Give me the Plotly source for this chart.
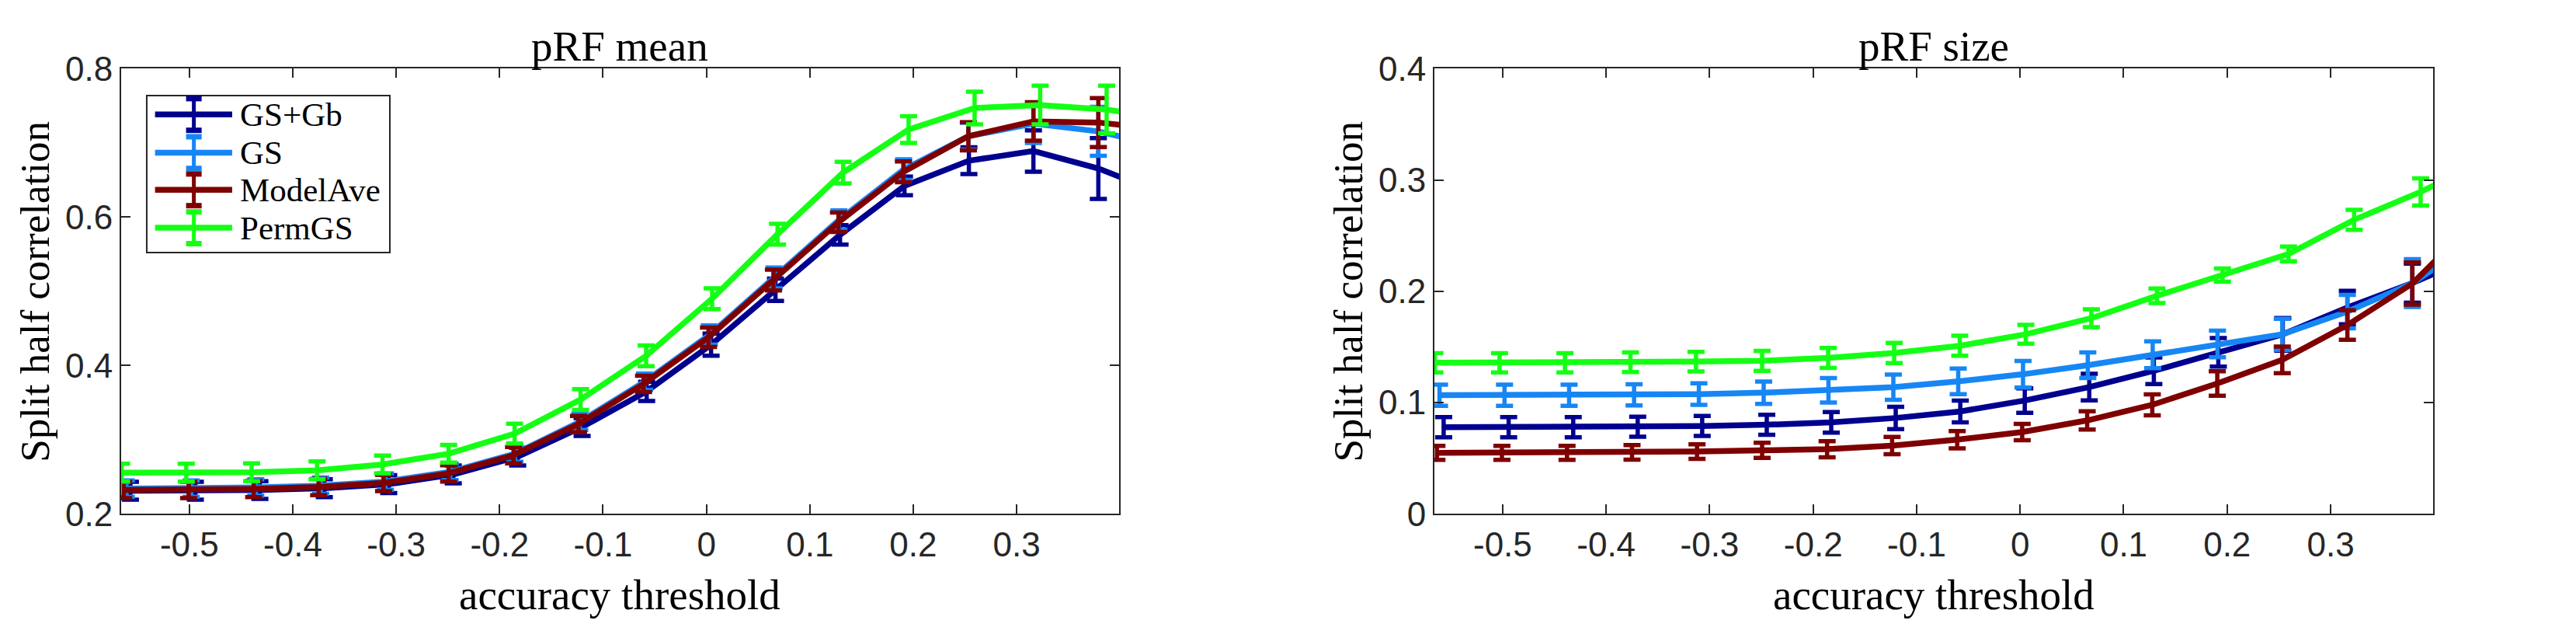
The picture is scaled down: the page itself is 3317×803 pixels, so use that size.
import plotly.graph_objects as go
from plotly.subplots import make_subplots

# accuracy threshold of each bin (small per-model offsets as in the figure)
x_gsgb = [-0.5570, -0.4942, -0.4318, -0.3695, -0.3072, -0.2448, -0.1825, -0.1202, -0.0578,
          0.0045, 0.0668, 0.1292, 0.1915, 0.2538, 0.3162, 0.3790, 0.4418]
x_gs = [-0.5610, -0.4982, -0.4358, -0.3730, -0.3104, -0.2478, -0.1852, -0.1225, -0.0598,
        0.0028, 0.0654, 0.1281, 0.1907, 0.2533, 0.3162, 0.3790, 0.4418]
x_modelave = [-0.5635, -0.5007, -0.4378, -0.3750, -0.3122, -0.2493, -0.1865, -0.1237, -0.0608,
              0.0020, 0.0648, 0.1277, 0.1905, 0.2533, 0.3162, 0.3790, 0.4418]
x_permgs = [-0.5655, -0.5030, -0.4398, -0.3765, -0.3132, -0.2493, -0.1855, -0.1217, -0.0583,
            0.0055, 0.0688, 0.1322, 0.1955, 0.2593, 0.3227, 0.3870, 0.4508]

# pRF mean: split half correlation and error
mean_gsgb = [0.231, 0.231, 0.232, 0.2345, 0.240, 0.253, 0.277, 0.317, 0.365,
             0.428, 0.502, 0.576, 0.642, 0.676, 0.689, 0.6655, 0.631]
mean_gsgb_err = [0.012, 0.012, 0.012, 0.012, 0.012, 0.012, 0.012, 0.012, 0.013,
                 0.015, 0.015, 0.013, 0.0125, 0.018, 0.028, 0.041, 0.045]
mean_gs = [0.234, 0.234, 0.2355, 0.238, 0.2435, 0.2565, 0.281, 0.324, 0.378,
           0.441, 0.518, 0.596, 0.664, 0.709, 0.726, 0.7155, 0.695]
mean_gs_err = [0.011, 0.011, 0.011, 0.011, 0.011, 0.011, 0.011, 0.011, 0.011,
               0.013, 0.014, 0.013, 0.014, 0.018, 0.026, 0.033, 0.036]
mean_modelave = [0.232, 0.232, 0.2335, 0.236, 0.2415, 0.2545, 0.279, 0.321, 0.375,
                 0.438, 0.515, 0.593, 0.661, 0.709, 0.729, 0.7275, 0.718]
mean_modelave_err = [0.011, 0.011, 0.011, 0.011, 0.011, 0.011, 0.011, 0.011, 0.011,
                     0.013, 0.014, 0.013, 0.014, 0.019, 0.026, 0.033, 0.036]
mean_permgs = [0.2555, 0.2555, 0.256, 0.2585, 0.2665, 0.281, 0.308, 0.354, 0.413,
               0.490, 0.577, 0.660, 0.718, 0.747, 0.751, 0.745, 0.731]
mean_permgs_err = [0.012, 0.012, 0.012, 0.012, 0.012, 0.012, 0.0133, 0.014, 0.014,
                   0.014, 0.014, 0.0145, 0.018, 0.022, 0.026, 0.032, 0.035]

# pRF size: split half correlation and error
size_gsgb = [0.0778, 0.0778, 0.0778, 0.0782, 0.0789, 0.080, 0.0822, 0.0861, 0.092,
             0.1018, 0.1139, 0.1285, 0.1451, 0.1613, 0.1854, 0.2073, 0.233]
size_gsgb_err = [0.009, 0.009, 0.009, 0.009, 0.009, 0.009, 0.0093, 0.010, 0.0098,
                 0.011, 0.012, 0.012, 0.0128, 0.0147, 0.015, 0.0175, 0.019]
size_gs = [0.1066, 0.1066, 0.1066, 0.1069, 0.1075, 0.1088, 0.111, 0.1138, 0.119,
           0.1254, 0.1335, 0.1429, 0.1526, 0.1613, 0.1817, 0.2073, 0.246]
size_gs_err = [0.0095, 0.0095, 0.0095, 0.0095, 0.0097, 0.010, 0.011, 0.0113, 0.0115,
               0.012, 0.0115, 0.012, 0.012, 0.014, 0.015, 0.0215, 0.023]
size_modelave = [0.0548, 0.0548, 0.0548, 0.0552, 0.0559, 0.057, 0.058, 0.0613, 0.0666,
                 0.0734, 0.0839, 0.0979, 0.1171, 0.1383, 0.1696, 0.2069, 0.265]
size_modelave_err = [0.0063, 0.0063, 0.0063, 0.0065, 0.0066, 0.0068, 0.0073, 0.0077, 0.0078,
                     0.0073, 0.0082, 0.0095, 0.011, 0.012, 0.0133, 0.019, 0.02]
size_permgs = [0.1357, 0.1357, 0.1357, 0.1362, 0.1368, 0.1375, 0.1401, 0.1445, 0.151,
               0.1613, 0.1758, 0.1959, 0.2145, 0.2335, 0.2642, 0.2893, 0.318]
size_permgs_err = [0.0087, 0.0087, 0.0087, 0.0088, 0.0088, 0.009, 0.009, 0.009, 0.009,
                   0.0085, 0.008, 0.0066, 0.006, 0.0066, 0.009, 0.0122, 0.013]

names = ["GS+Gb", "GS", "ModelAve", "PermGS"]
colors = ["#00008F", "#1786F5", "#7F0000", "#14FF14"]

x_ticks = [-0.5, -0.4, -0.3, -0.2, -0.1, 0, 0.1, 0.2, 0.3]
x_ticktext = ["-0.5", "-0.4", "-0.3", "-0.2", "-0.1", "0", "0.1", "0.2", "0.3"]
mean_yticks = [0.2, 0.4, 0.6, 0.8]
size_yticks = [0, 0.1, 0.2, 0.3, 0.4]

xs = [x_gsgb, x_gs, x_modelave, x_permgs]
panels = [
    ("pRF mean", [mean_gsgb, mean_gs, mean_modelave, mean_permgs],
     [mean_gsgb_err, mean_gs_err, mean_modelave_err, mean_permgs_err]),
    ("pRF size", [size_gsgb, size_gs, size_modelave, size_permgs],
     [size_gsgb_err, size_gs_err, size_modelave_err, size_permgs_err]),
]

fig = make_subplots(rows=1, cols=2)

for col, (title, ys, errs) in enumerate(panels, start=1):
    for x, y, e, name, c in zip(xs, ys, errs, names, colors):
        fig.add_trace(
            go.Scatter(
                x=x, y=y, name=name, mode="lines",
                line=dict(color=c, width=7.5),
                error_y=dict(type="data", array=e, color=c, thickness=5.5, width=11),
                showlegend=False,
            ),
            row=1, col=col,
        )

axis_color = "#262626"
tick_font = dict(family="Liberation Sans, Arial", size=44, color=axis_color)
serif = "Liberation Serif, Times New Roman, serif"

common = dict(
    showline=True, linecolor=axis_color, linewidth=2, mirror="ticks",
    ticks="inside", ticklen=12, tickwidth=2, tickcolor=axis_color,
    showgrid=False, zeroline=False, tickfont=tick_font,
)

y_dom = [0.1669, 0.9265]
fig.update_xaxes(common, range=[-0.566, 0.399], tickvals=x_ticks, ticktext=x_ticktext)
fig.update_xaxes(domain=[0.0446, 0.4320], row=1, col=1)
fig.update_xaxes(domain=[0.5544, 0.9421], row=1, col=2)
fig.update_yaxes(common, domain=y_dom)
fig.update_yaxes(range=[0.2, 0.8], tickvals=mean_yticks,
                 ticktext=["0.2", "0.4", "0.6", "0.8"], row=1, col=1)
fig.update_yaxes(range=[0, 0.4], tickvals=size_yticks,
                 ticktext=["0", "0.1", "0.2", "0.3", "0.4"], row=1, col=2)

annotations = []
for i, (title, _, _) in enumerate(panels):
    xr = "x domain" if i == 0 else "x2 domain"
    yr = "y domain" if i == 0 else "y2 domain"
    annotations += [
        dict(text=title, x=0.5, y=1.051, xref=xr, yref=yr, showarrow=False,
             xanchor="center", yanchor="middle", font=dict(family=serif, size=55, color="black")),
        dict(text="accuracy threshold", x=0.5, y=-0.182, xref=xr, yref=yr, showarrow=False,
             xanchor="center", yanchor="middle", font=dict(family=serif, size=55, color="black")),
        dict(text="Split half correlation", x=-0.0864, y=0.5, xref=xr, yref=yr, showarrow=False,
             textangle=-90, xanchor="center", yanchor="middle",
             font=dict(family=serif, size=53, color="black")),
    ]

# legend box in the first panel, drawn MATLAB style with error bar glyphs
shapes = [dict(type="rect", xref="x domain", yref="y domain", x0=0.0257, x1=0.2693,
               y0=0.5869, y1=0.9398, line=dict(color=axis_color, width=2), fillcolor="white")]
entry_y = [0.8972, 0.8115, 0.7279, 0.6426]
for ey, name, c in zip(entry_y, names, colors):
    shapes += [
        dict(type="line", xref="x domain", yref="y domain", x0=0.0340, x1=0.1113, y0=ey, y1=ey,
             line=dict(color=c, width=7.5)),
        dict(type="line", xref="x domain", yref="y domain", x0=0.0729, x1=0.0729,
             y0=ey - 0.0356, y1=ey + 0.0356, line=dict(color=c, width=5)),
        dict(type="line", xref="x domain", yref="y domain", x0=0.0729 - 0.0078, x1=0.0729 + 0.0078,
             y0=ey - 0.0356, y1=ey - 0.0356, line=dict(color=c, width=7)),
        dict(type="line", xref="x domain", yref="y domain", x0=0.0729 - 0.0078, x1=0.0729 + 0.0078,
             y0=ey + 0.0356, y1=ey + 0.0356, line=dict(color=c, width=7)),
    ]
    annotations.append(
        dict(text=name, x=0.1175, y=ey, xref="x domain", yref="y domain", showarrow=False,
             xanchor="left", yanchor="middle", font=dict(family=serif, size=43, color="black"))
    )

fig.update_layout(
    width=3317, height=803,
    margin=dict(l=0, r=0, t=0, b=0),
    paper_bgcolor="white", plot_bgcolor="white",
    showlegend=False,
    annotations=annotations, shapes=shapes,
)

fig.write_html("out.html")
